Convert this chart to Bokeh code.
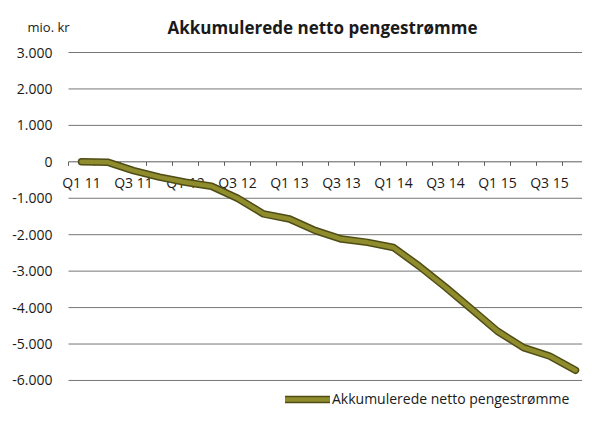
from bokeh.plotting import figure
from bokeh.models import Range1d, Label, Legend, LegendItem, ColumnDataSource
from bokeh.core.properties import value
from bokeh.embed import file_html
from bokeh.resources import INLINE

quarters = ["Q1 11", "Q2 11", "Q3 11", "Q4 11",
            "Q1 12", "Q2 12", "Q3 12", "Q4 12",
            "Q1 13", "Q2 13", "Q3 13", "Q4 13",
            "Q1 14", "Q2 14", "Q3 14", "Q4 14",
            "Q1 15", "Q2 15", "Q3 15", "Q4 15"]
cum_cash = [0, -10, -240, -420,
            -560, -670, -1000, -1430,
            -1570, -1890, -2120, -2210,
            -2350, -2870, -3440, -4040,
            -4650, -5100, -5330, -5720]
y_ticks = [-6000, -5000, -4000, -3000, -2000, -1000, 0, 1000, 2000, 3000]
y_tick_labels = ["-6.000", "-5.000", "-4.000", "-3.000", "-2.000", "-1.000", "0", "1.000", "2.000", "3.000"]
title_text = "Akkumulerede netto pengestrømme"
unit_text = "mio. kr"
series_name = "Akkumulerede netto pengestrømme"

FONT = "Open Sans"
TXT = "#1a1a1a"
W, H = 582, 410
CAT_PX = 26.0          # pixels per category
LEFT_PX = 68           # category axis start
PX_PER_1000 = 36.44
TOP_GRID_PX = 52       # position of top gridline

x0 = -LEFT_PX / CAT_PX
x1 = x0 + W / CAT_PX
ytop = y_ticks[-1] + TOP_GRID_PX / PX_PER_1000 * 1000
ybot = ytop - H / PX_PER_1000 * 1000

n = len(quarters)
xs = [i + 0.5 for i in range(n)]

p = figure(width=W, height=H, output_backend="svg", toolbar_location=None,
           x_range=Range1d(x0, x1), y_range=Range1d(ybot, ytop),
           min_border_left=0, min_border_right=0, min_border_top=0, min_border_bottom=0)
p.outline_line_color = None
p.background_fill_color = "white"
p.border_fill_color = "white"
p.xaxis.visible = False
p.yaxis.visible = False
p.grid.visible = False

# horizontal gridlines (start at category axis origin)
grid_ticks = [t for t in y_ticks if t != 0]
p.segment(x0=[0] * len(grid_ticks), y0=grid_ticks, x1=[x1] * len(grid_ticks), y1=grid_ticks,
          line_color="#767676", line_width=1)
# y tick labels
p.text(x=[0] * len(y_ticks), y=y_ticks, text=y_tick_labels, x_offset=-16,
       text_align="right", text_baseline="middle",
       text_font=value(FONT), text_font_size="14px", text_color=TXT)

# category axis at y = 0
p.segment(x0=[0], y0=[0], x1=[x1], y1=[0], line_color="#5e5e5e", line_width=1)
tick_x = list(range(n))
p.segment(x0=tick_x, y0=[0] * n, x1=tick_x, y1=[-110] * n,
          line_color="#5e5e5e", line_width=1)
lab_idx = list(range(0, n, 2))
p.text(x=[xs[i] for i in lab_idx], y=[0] * len(lab_idx), text=[quarters[i] for i in lab_idx],
       text_align="center", text_baseline="middle", y_offset=21,
       text_font=value(FONT), text_font_size="14px", text_color=TXT)

src = ColumnDataSource(dict(x=xs, y=cum_cash))
r1 = p.line("x", "y", source=src, line_color="#4f4c16", line_width=7.5, line_join="round", line_cap="round")
r2 = p.line("x", "y", source=src, line_color="#8e8c2c", line_width=4.5, line_join="round", line_cap="round")

legend = Legend(items=[LegendItem(label=series_name, renderers=[r1, r2])],
                location=(285, 2), glyph_width=45, glyph_height=10, label_height=16,
                label_standoff=2, padding=0, margin=0, border_line_color=None,
                background_fill_alpha=0, label_text_font=FONT, label_text_font_size="14px",
                label_text_color=TXT)
p.add_layout(legend, "center")

p.add_layout(Label(x=322, y=H - 27, x_units="screen", y_units="screen", text=title_text,
                   text_align="center", text_baseline="alphabetic", text_font=FONT,
                   text_font_size="17px", text_font_style="bold", text_color=TXT))
p.add_layout(Label(x=27, y=H - 26, x_units="screen", y_units="screen", text=unit_text,
                   text_align="left", text_baseline="alphabetic", text_font=FONT,
                   text_font_size="13px", text_color=TXT))

open("out.html", "w").write(file_html(p, INLINE))
